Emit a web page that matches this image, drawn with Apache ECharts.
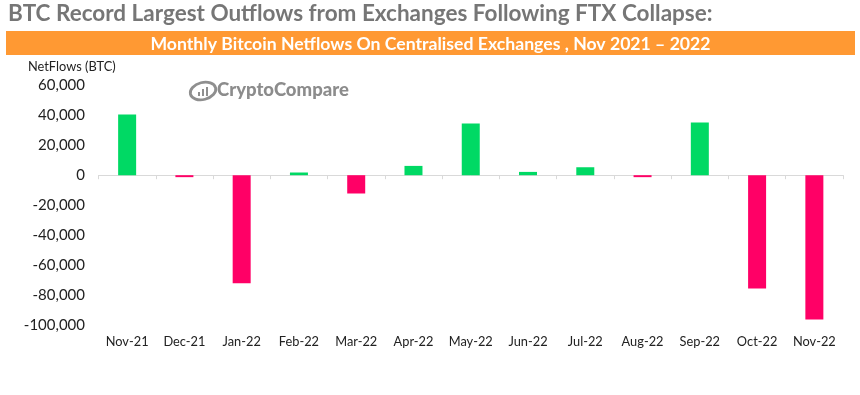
<!DOCTYPE html>
<html><head><meta charset="utf-8">
<style>html,body{margin:0;padding:0;background:#fff}#c{width:860px;height:395px}</style>
<script src="https://cdn.jsdelivr.net/npm/echarts@6/dist/echarts.min.js"></script>
</head><body><div id="c"></div>
<script>
const categories = ['Nov-21','Dec-21','Jan-22','Feb-22','Mar-22','Apr-22','May-22','Jun-22','Jul-22','Aug-22','Sep-22','Oct-22','Nov-22'];
const netflows = [40500,-1300,-72000,1800,-12200,6200,34500,2200,5300,-1300,35100,-75500,-96200];
const yTicks = {min:-100000,max:60000,interval:20000};
const titleText = 'BTC Record Largest Outflows from Exchanges Following FTX Collapse:';
const bandText = 'Monthly Bitcoin Netflows On Centralised Exchanges , Nov 2021 \u2013 2022';
const yName = 'NetFlows (BTC)';
const UP = '#00D964', DOWN = '#FF0066';
const F = 'Lato';
const chart = echarts.init(document.getElementById('c'),null,{renderer:'canvas'});
chart.setOption({
  animation:false,
  backgroundColor:'#fff',
  textStyle:{fontFamily:F},
  title:[
    {text:titleText,left:8,top:2,padding:0,textStyle:{fontFamily:F,fontSize:22.5,fontWeight:'bold',color:'#767676'}},
    {text:bandText,left:430.5,top:35.5,padding:0,textAlign:'center',textStyle:{fontFamily:F,fontSize:17.65,fontWeight:'bold',color:'#fff'}},
    {text:yName,left:28,top:60,padding:0,textStyle:{fontFamily:F,fontSize:12.8,fontWeight:'normal',color:'#222'}}
  ],
  graphic:[
    {type:'rect',z:-1,shape:{x:6,y:31,width:849,height:24},style:{fill:'#FF9933'}},
    {type:'ellipse',z:0,shape:{cx:203,cy:91,rx:13,ry:8.5},rotation:0.25,originX:203,originY:91,style:{fill:'none',stroke:'#8f8f8f',lineWidth:2.8}},
    {type:'rect',shape:{x:198,y:92,width:2,height:4},style:{fill:'#8f8f8f'}},
    {type:'rect',shape:{x:202,y:89,width:2,height:7},style:{fill:'#8f8f8f'}},
    {type:'rect',shape:{x:206,y:87,width:2,height:9},style:{fill:'#8f8f8f'}},
    {type:'text',style:{x:217,y:80.5,text:'CryptoCompare',fontFamily:F,fontSize:18.5,fontWeight:900,fill:'#8c8c8c'}}
  ],
  grid:{left:98.5,right:17,top:85.2,height:240,containLabel:false},
  xAxis:[
    {type:'category',data:categories,position:'bottom',
     axisLine:{show:false,onZero:false},axisTick:{show:false},
     axisLabel:{interval:0,margin:10.5,fontFamily:F,fontSize:12.8,color:'#222'}},
    {type:'category',data:categories,position:'bottom',
     axisLine:{show:true,onZero:true,lineStyle:{color:'#d9d9d9',width:1}},
     axisTick:{show:true,length:4,lineStyle:{color:'#d9d9d9'}},
     axisLabel:{show:false}}
  ],
  yAxis:{type:'value',min:yTicks.min,max:yTicks.max,interval:yTicks.interval,
    axisLine:{show:false},axisTick:{show:false},splitLine:{show:false},
    axisLabel:{margin:13.5,fontFamily:F,fontSize:15,color:'#222',
      formatter:v=>v.toLocaleString('en-US')}},
  series:[{type:'bar',barWidth:18,xAxisIndex:0,
    data:netflows.map(v=>({value:v,itemStyle:{color:v>=0?UP:DOWN}}))}]
});
</script></body></html>
